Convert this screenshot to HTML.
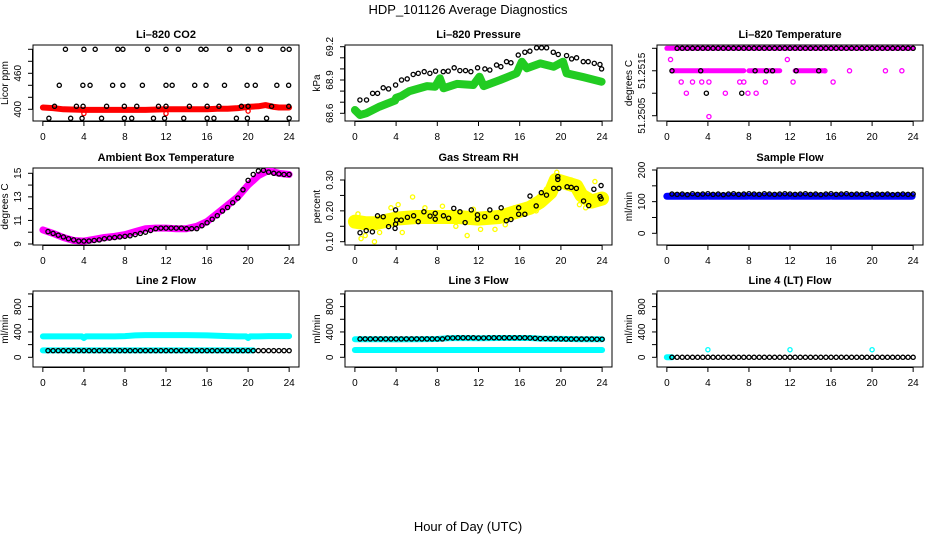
<!DOCTYPE html>
<html><head><meta charset="utf-8"><style>
html,body{margin:0;padding:0;background:#fff;}
svg{display:block;font-family:"Liberation Sans",sans-serif;}
</style></head><body>
<svg id="c" width="936" height="540" viewBox="0 0 936 540">
<text x="468" y="14" text-anchor="middle" font-size="13">HDP_101126  Average Diagnostics</text>
<text x="468" y="531" text-anchor="middle" font-size="13">Hour of Day (UTC)</text>
</svg>
<script>
// ---------- data ----------
const xTicks=[0,4,8,12,16,20,24];
const T48=[0.5,1,1.5,2,2.5,3,3.5,4,4.5,5,5.5,6,6.5,7,7.5,8,8.5,9,9.5,10,10.5,11,11.5,12,12.5,13,13.5,14,14.5,15,15.5,16,16.5,17,17.5,18,18.5,19,19.5,20,20.5,21,21.5,22,22.5,23,23.5,24];
// CO2
const co2Hours=[2.2,4.0,5.1,7.3,7.8,10.2,12.0,13.2,15.4,15.9,18.2,20.0,21.2,23.4,24.0,1.6,3.9,4.6,6.8,7.8,9.7,12.0,12.6,14.8,15.9,17.7,19.9,20.7,22.8,23.95,1.14,3.27,3.92,6.21,7.94,9.15,11.27,12.0,14.28,16.01,17.16,19.35,20.0,22.29,23.96,0.59,2.71,3.82,5.72,7.94,8.66,10.78,11.86,13.73,16.01,16.67,18.86,19.93,21.8,24.0];
const co2Vals=[500,500,500,500,500,500,500,500,500,500,500,500,500,500,500,440,440,440,440,440,440,440,440,440,440,440,440,440,440,440,405,405,405,405,405,405,405,405,405,405,405,405,405,405,405,385,385,385,385,385,385,385,385,385,385,385,385,385,385,385];
const co2LineHours=[0,1,2,4,6,8,10,12,14,16,17,18,19,20,21,21.7,22.5,23,24];
const co2LineVals=[403,402,400,399,399,399,399,400,400,400,401,401,402,404,405,407,404,403,403];
const co2RedHours=[4,12,20];
const co2RedVals=[393,393,397];
// Pressure
const presHours=[0.49,1.13,1.72,2.2,2.75,3.27,3.95,4.53,5.08,5.66,6.15,6.73,7.28,7.83,8.58,9.06,9.64,10.19,10.74,11.26,11.91,12.62,13.1,13.75,14.17,14.72,15.15,15.86,16.5,16.99,17.64,18.12,18.61,19.26,19.74,20.55,21.04,21.52,22.17,22.65,23.24,23.79,23.95];
const presVals=[68.72,68.72,68.78,68.78,68.83,68.82,68.855,68.9,68.91,68.95,68.96,68.975,68.96,68.98,68.975,68.98,69.01,68.985,68.985,68.975,69.01,69.0,68.99,69.035,69.02,69.065,69.055,69.125,69.15,69.16,69.19,69.19,69.19,69.15,69.13,69.12,69.09,69.1,69.065,69.065,69.05,69.04,69.0];
const presBandHours=[0,0.5,1.1,2.4,3.9,4.0,4.5,5.3,7.0,7.8,8.25,8.6,9.9,11.5,12.1,12.5,14.1,15.7,16.2,16.7,18.0,19.3,20.2,20.55,22.2,23.95];
const presBandVals=[68.63,68.585,68.6,68.66,68.715,68.74,68.755,68.8,68.845,68.84,68.915,68.825,68.865,68.855,68.93,68.845,68.9,68.96,69.065,69.005,69.05,69.02,69.065,68.96,68.925,68.885];
// Temperature
const tempBandSegs=[[0,24,51.252],[0.5,4.0,51.2515],[4.1,7.5,51.2515],[8.0,11.0,51.2515],[12.5,15.3,51.2515]];
const tempBlackHours=[0.5,3.3,8.6,9.7,10.3,12.6,14.8,3.85,7.3];
const tempBlackVals=[51.2515,51.2515,51.2515,51.2515,51.2515,51.2515,51.2515,51.251,51.251];
const tempMagHours=[0.36,11.74,15.4,17.8,21.3,22.9,1.4,2.5,3.4,4.1,7.1,7.5,9.6,12.3,16.2,1.9,5.7,7.9,8.7,4.1];
const tempMagVals=[51.25175,51.25175,51.2515,51.2515,51.2515,51.2515,51.25125,51.25125,51.25125,51.25125,51.25125,51.25125,51.25125,51.25125,51.25125,51.251,51.251,51.251,51.251,51.25048];
// Ambient
const ambCurveHours=[0,1,2,3,4,5,6,7,8,9,10,11,12,13,14,15,16,17,18,19,20,21,22,23,24];
const ambCurveVals=[10.2,9.9,9.55,9.3,9.25,9.4,9.55,9.65,9.8,10.05,10.3,10.35,10.35,10.3,10.3,10.5,10.9,11.6,12.3,13.0,14.0,14.8,15.25,15.0,14.9];
const ambBlack=[10.05,9.9,9.75,9.6,9.45,9.35,9.25,9.25,9.25,9.3,9.35,9.45,9.5,9.55,9.6,9.65,9.7,9.8,9.9,10.0,10.15,10.3,10.35,10.35,10.35,10.35,10.35,10.3,10.3,10.3,10.55,10.8,11.1,11.4,11.8,12.1,12.5,12.9,13.6,14.4,14.9,15.2,15.25,15.1,15.0,14.95,14.9,14.9];
// RH
const rhBandHours=[0,1,2,4,6,8,10,12,14,16,17,18,19,19.5,20.5,21.5,22,23,24];
const rhBandVals=[0.165,0.16,0.16,0.175,0.18,0.18,0.18,0.175,0.18,0.2,0.21,0.23,0.26,0.3,0.29,0.28,0.25,0.23,0.24];
const rhHours=[0.5,1.1,1.7,2.2,2.75,3.27,3.95,3.95,3.9,4.05,4.5,5.1,5.7,6.15,6.7,7.3,7.8,7.8,8.6,9.1,9.6,10.2,10.7,11.3,11.9,11.9,12.6,13.1,13.75,14.2,14.7,15.15,15.9,15.9,16.5,17.0,17.6,18.1,18.6,19.3,19.7,19.7,19.8,20.6,21.0,21.5,22.2,22.7,23.2,23.8,23.9,23.9];
const rhVals=[0.129,0.136,0.132,0.184,0.181,0.149,0.203,0.157,0.143,0.17,0.17,0.179,0.184,0.165,0.197,0.183,0.192,0.173,0.184,0.176,0.208,0.197,0.162,0.203,0.187,0.173,0.181,0.203,0.179,0.21,0.168,0.172,0.21,0.189,0.189,0.248,0.216,0.259,0.251,0.273,0.311,0.302,0.273,0.278,0.276,0.273,0.232,0.217,0.27,0.246,0.282,0.239];
const rhYellowHours=[0.3,0.6,1.0,1.9,2.4,3.5,4.2,4.6,5.6,6.8,8.5,9.8,10.9,11.5,12.2,13.6,14.6,15.5,16.8,17.6,18.6,19.6,21.0,21.8,22.4,23.3];
const rhYellowVals=[0.19,0.11,0.12,0.10,0.13,0.21,0.22,0.13,0.245,0.21,0.215,0.15,0.12,0.205,0.14,0.14,0.155,0.21,0.22,0.2,0.27,0.325,0.3,0.22,0.21,0.295];
// Sample flow
const sfBlack=[124,123,124,122,125,123,124,125,123,124,122,124,125,123,124,125,124,123,125,124,123,124,125,124,123,124,125,123,124,122,124,125,123,124,125,123,124,123,125,122,124,123,124,122,123,124,123,124];
const sfSegs=[[0,3.9,117],[4.1,7.9,117],[8.1,11.9,117],[12.1,15.9,117],[16.1,19.9,117],[20.1,23.9,117]];
// Line 2
const l2UpperHours=[0,1,2,3,3.8,4,4.2,5,6,7,8,9,10,11,12,13,14,15,16,17,18,19,19.8,20,20.2,21,22,23,24];
const l2UpperVals=[330,330,330,330,330,305,330,330,330,330,335,345,350,350,350,350,350,348,345,340,335,330,330,305,330,330,335,335,335];
const l2LowerSegs=[[0,20.5,110]];
const l2Black=[105,105,105,105,105,105,105,105,105,105,105,105,105,105,105,105,105,105,105,105,105,105,105,105,105,105,105,105,105,105,105,105,105,105,105,105,105,105,105,105,105,105,105,105,105,105,105,105];
// Line 3
const l3UpperHours=[0,2,4,6,8,9,10,12,14,16,17,18,20,22,24];
const l3UpperVals=[285,285,283,285,288,300,305,300,305,305,305,295,290,285,285];
const l3LowerSegs=[[0,24,115]];
const l3Black=[290,290,290,290,290,290,290,290,290,290,290,290,290,290,290,290,290,305,305,308,308,308,308,305,305,308,308,308,308,308,308,308,308,305,300,295,295,292,292,290,288,288,288,288,288,288,285,285];
// Line 4
const l4CyanHours=[4,12,20];
const l4CyanVals=[120,120,120];
const l4Segs=[[0,0.5,0]];
const l4Black=[0,0,0,0,0,0,0,0,0,0,0,0,0,0,0,0,0,0,0,0,0,0,0,0,0,0,0,0,0,0,0,0,0,0,0,0,0,0,0,0,0,0,0,0,0,0,0,0];

// ---------- drawing ----------
const NS='http://www.w3.org/2000/svg';
const svg=document.getElementById('c');
function mk(tag,attrs,parent){const e=document.createElementNS(NS,tag);for(const k in attrs)e.setAttribute(k,attrs[k]);(parent||svg).appendChild(e);return e;}
const cols=[[33,299],[345,612],[657,923]];
const rows=[[45,121],[168,245],[291,367]];
function panel(o){
  const [L,R]=cols[o.col],[Tp,B]=rows[o.row];
  const g=mk('g',{});
  
  
  const X=h=>L+(h+0.96)/25.92*(R-L);
  const Y=v=>o.p1+(v-o.v1)*(o.p2-o.p1)/(o.v2-o.v1);
  const t=mk('text',{x:(L+R)/2,y:Tp-7,'text-anchor':'middle','font-size':11,'font-weight':'bold'},g);t.textContent=o.title;
  
  
  const box=mk('rect',{x:L,y:Tp,width:R-L,height:B-Tp,fill:'none',stroke:'#000','stroke-width':1},g);
  
  
  const xa=mk('g',{},g);
  
  
  mk('line',{x1:X(0),x2:X(24),y1:B+0.5,y2:B+0.5,stroke:'#000'},xa);
  xTicks.forEach(h=>{mk('line',{x1:X(h),x2:X(h),y1:B,y2:B+5,stroke:'#000'},xa);
    const tx=mk('text',{x:X(h),y:B+19,'text-anchor':'middle','font-size':10},xa);tx.textContent=h;});
  const ya=mk('g',{},g);
  
  
  mk('line',{x1:L-0.5,x2:L-0.5,y1:Y(o.yt[0]),y2:Y(o.yt[o.yt.length-1]),stroke:'#000'},ya);
  o.yt.forEach(v=>mk('line',{x1:L-5,x2:L,y1:Y(v),y2:Y(v),stroke:'#000'},ya));
  o.yl.forEach(v=>{const y=Y(v),x=L-12;const tx=mk('text',{x:x,y:y,'text-anchor':'middle','font-size':10,transform:`rotate(-90 ${x} ${y})`},ya);tx.textContent=o.fmt?o.fmt(v):v;});
  const yx=L-25,yy=(Tp+B)/2;
  const yl=mk('text',{x:yx,y:yy,'text-anchor':'middle','font-size':10,transform:`rotate(-90 ${yx} ${yy})`},g);yl.textContent=o.ylab;
  
  
  const clip='cl'+o.name;const cp=mk('clipPath',{id:clip},g);mk('rect',{x:L,y:Tp,width:R-L,height:B-Tp},cp);
  const d=mk('g',{'clip-path':`url(#${clip})`},g);
  return {X,Y,d};
}
function band(p,hs,vs,color,w,name){
  const pts=hs.map((h,i)=>p.X(h).toFixed(1)+','+p.Y(vs[i]).toFixed(1)).join(' ');
  const e=mk('polyline',{points:pts,fill:'none',stroke:color,'stroke-width':w,'stroke-linecap':'round','stroke-linejoin':'round'},p.d);
  
  
}
function segs(p,ss,color,w,name){ss.forEach(s=>{const e=mk('line',{x1:p.X(s[0]),x2:p.X(s[1]),y1:p.Y(s[2]),y2:p.Y(s[2]),stroke:color,'stroke-width':w,'stroke-linecap':'round'},p.d);
  
  });}
function pts(p,hs,vs,color,name){hs.forEach((h,i)=>{const e=mk('circle',{cx:p.X(h),cy:p.Y(vs[i]),r:2.1,fill:'none',stroke:color,'stroke-width':1.3},p.d);
  
  });}

let p;
p=panel({name:'co2-panel',col:0,row:0,title:'Li\u2013820 CO2',ylab:'Licor ppm',v1:400,p1:109.3,v2:460,p2:73.3,yt:[400,420,440,460,480,500],yl:[400,460]});
band(p,co2LineHours,co2LineVals,'#ff0000',6,'co2-red-band');
pts(p,co2RedHours,co2RedVals,'#ff0000','co2-red-point');
pts(p,co2Hours,co2Vals,'#000','co2-point');

p=panel({name:'pressure-panel',col:1,row:0,title:'Li\u2013820 Pressure',ylab:'kPa',v1:68.6,p1:113.3,v2:69.2,p2:46.7,yt:[68.6,68.7,68.8,68.9,69.0,69.1,69.2],yl:[68.6,68.9,69.2],fmt:v=>v.toFixed(1)});
band(p,presBandHours,presBandVals,'#22cc22',8,'pressure-green-band');
pts(p,presHours,presVals,'#000','pressure-point');

p=panel({name:'temperature-panel',col:2,row:0,title:'Li\u2013820 Temperature',ylab:'degrees C',v1:51.2505,p1:115.7,v2:51.252,p2:48.3,yt:[51.2505,51.251,51.2515,51.252],yl:[51.2505,51.2515],fmt:v=>v.toFixed(4)});
segs(p,tempBandSegs,'#ff00ff',5,'temp-magenta-band');
pts(p,tempMagHours,tempMagVals,'#ff00ff','temp-magenta-point');
pts(p,T48.slice(1),T48.slice(1).map(()=>51.252),'#000','temp-top-point');
pts(p,tempBlackHours,tempBlackVals,'#000','temp-point');

p=panel({name:'ambient-panel',col:0,row:1,title:'Ambient Box Temperature',ylab:'degrees C',v1:9,p1:244,v2:15,p2:173.3,yt:[9,10,11,12,13,14,15],yl:[9,11,13,15]});
band(p,ambCurveHours,ambCurveVals,'#ff00ff',7,'ambient-magenta-band');
pts(p,T48,ambBlack,'#000','ambient-point');

p=panel({name:'rh-panel',col:1,row:1,title:'Gas Stream RH',ylab:'percent',v1:0.10,p1:241.7,v2:0.30,p2:180,yt:[0.10,0.15,0.20,0.25,0.30],yl:[0.10,0.20,0.30],fmt:v=>v.toFixed(2)});
band(p,rhBandHours,rhBandVals,'#ffff00',14,'rh-yellow-band');
pts(p,rhYellowHours,rhYellowVals,'#ffff00','rh-yellow-point');
pts(p,rhHours,rhVals,'#000','rh-point');

p=panel({name:'sample-flow-panel',col:2,row:1,title:'Sample Flow',ylab:'ml/min',v1:0,p1:233.3,v2:200,p2:170,yt:[0,50,100,150,200],yl:[0,100,200]});
segs(p,sfSegs,'#0000ff',7,'sample-blue-band');
pts(p,T48,sfBlack,'#000','sample-point');

p=panel({name:'line2-panel',col:0,row:2,title:'Line 2 Flow',ylab:'ml/min',v1:0,p1:357.3,v2:800,p2:306.6,yt:[0,200,400,600,800,1000],yl:[0,400,800]});
band(p,l2UpperHours,l2UpperVals,'#00ffff',6,'line2-upper-band');
segs(p,l2LowerSegs,'#00ffff',6,'line2-lower-band');
pts(p,T48,l2Black,'#000','line2-point');

p=panel({name:'line3-panel',col:1,row:2,title:'Line 3 Flow',ylab:'ml/min',v1:0,p1:357.3,v2:800,p2:306.6,yt:[0,200,400,600,800,1000],yl:[0,400,800]});
band(p,l3UpperHours,l3UpperVals,'#00ffff',6,'line3-upper-band');
segs(p,l3LowerSegs,'#00ffff',6,'line3-lower-band');
pts(p,T48,l3Black,'#000','line3-point');

p=panel({name:'line4-panel',col:2,row:2,title:'Line 4 (LT) Flow',ylab:'ml/min',v1:0,p1:357.3,v2:800,p2:306.6,yt:[0,200,400,600,800,1000],yl:[0,400,800]});
segs(p,l4Segs,'#00ffff',6,'line4-cyan-band');
pts(p,T48,l4Black,'#000','line4-point');
pts(p,l4CyanHours,l4CyanVals,'#00ffff','line4-cyan-point');
</script>
</body></html>
